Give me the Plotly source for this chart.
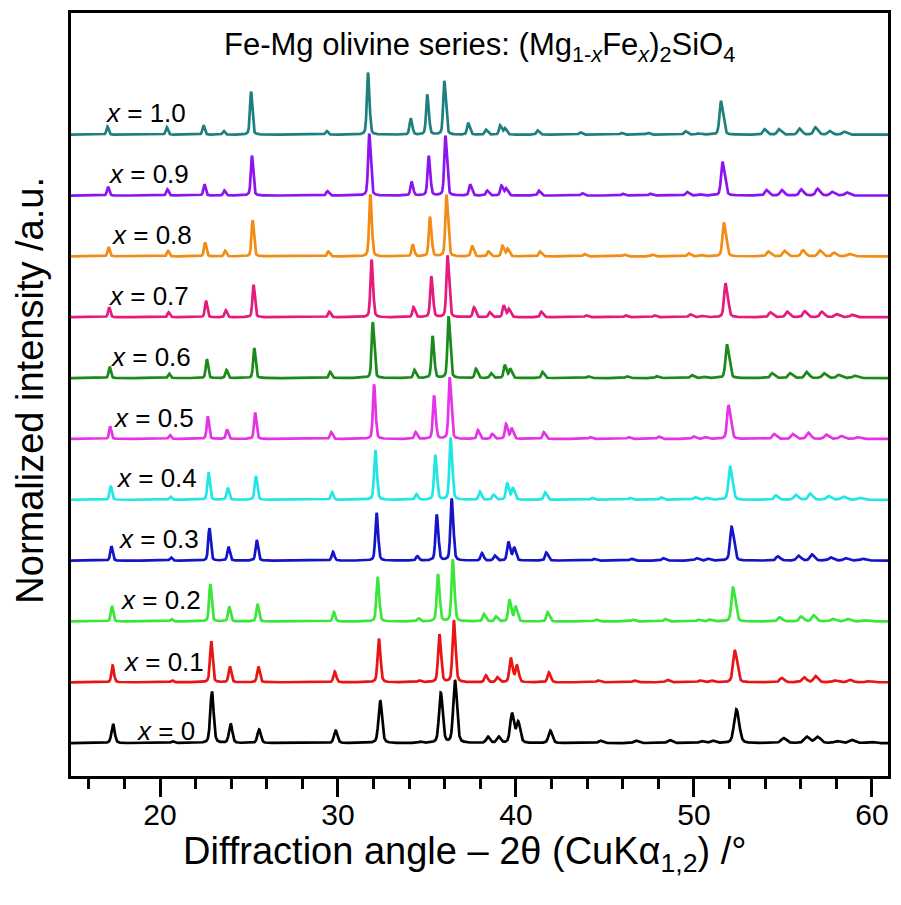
import numpy as np
import plotly.graph_objects as go

# ---------------- data ----------------
compositions = ["0", "0.1", "0.2", "0.3", "0.4", "0.5", "0.6", "0.7", "0.8", "0.9", "1.0"]
colors = ["#000000", "#E81515", "#3BE63B", "#1414C8", "#22E6E6", "#E633E6",
          "#1A8A1A", "#E6197F", "#F28C14", "#8C14F0", "#1E7F7F"]

# peak positions (deg 2theta) per composition, same peak order in each list
pos_x00 = [17.35, 20.70, 22.90, 23.95, 25.55, 29.85, 32.35, 34.60, 35.75, 36.55, 38.40, 39.00, 39.75, 40.10, 41.90, 44.70, 46.70, 48.60, 50.40, 51.00, 52.35, 55.00, 56.30, 56.90, 58.00, 58.85, 59.90]
pos_x01 = [17.33, 20.67, 22.86, 23.91, 25.51, 29.80, 32.28, 34.55, 35.68, 36.49, 38.29, 38.93, 39.69, 40.03, 41.83, 44.59, 46.62, 48.48, 50.31, 50.92, 52.27, 54.90, 56.15, 56.80, 57.88, 58.73, 59.75]
pos_x02 = [17.29, 20.63, 22.81, 23.87, 25.46, 29.75, 32.21, 34.49, 35.60, 36.43, 38.18, 38.86, 39.62, 39.96, 41.76, 44.48, 46.54, 48.36, 50.22, 50.84, 52.18, 54.79, 56.00, 56.70, 57.76, 58.60, 59.60]
pos_x03 = [17.26, 20.60, 22.76, 23.83, 25.42, 29.70, 32.15, 34.44, 35.53, 36.37, 38.07, 38.79, 39.56, 39.88, 41.69, 44.37, 46.46, 48.24, 50.13, 50.76, 52.10, 54.69, 55.84, 56.60, 57.64, 58.48, 59.45]
pos_x04 = [17.22, 20.57, 22.71, 23.79, 25.37, 29.65, 32.08, 34.39, 35.45, 36.31, 37.96, 38.72, 39.49, 39.81, 41.62, 44.26, 46.38, 48.12, 50.04, 50.68, 52.01, 54.58, 55.69, 56.50, 57.52, 58.35, 59.30]
pos_x05 = [17.19, 20.54, 22.67, 23.75, 25.33, 29.60, 32.01, 34.34, 35.38, 36.26, 37.85, 38.65, 39.43, 39.74, 41.55, 44.15, 46.30, 48.00, 49.95, 50.60, 51.93, 54.48, 55.53, 56.40, 57.40, 58.23, 59.15]
pos_x06 = [17.16, 20.50, 22.62, 23.72, 25.28, 29.54, 31.94, 34.28, 35.30, 36.20, 37.74, 38.58, 39.36, 39.66, 41.48, 44.04, 46.22, 47.88, 49.86, 50.52, 51.84, 54.37, 55.37, 56.30, 57.28, 58.10, 59.00]
pos_x07 = [17.13, 20.47, 22.57, 23.68, 25.24, 29.49, 31.87, 34.23, 35.23, 36.14, 37.63, 38.51, 39.30, 39.59, 41.41, 43.93, 46.14, 47.76, 49.77, 50.44, 51.76, 54.27, 55.22, 56.20, 57.16, 57.98, 58.85]
pos_x08 = [17.10, 20.44, 22.52, 23.64, 25.19, 29.44, 31.80, 34.18, 35.15, 36.08, 37.52, 38.44, 39.23, 39.52, 41.34, 43.82, 46.06, 47.64, 49.68, 50.36, 51.67, 54.16, 55.06, 56.10, 57.04, 57.85, 58.70]
pos_x09 = [17.07, 20.40, 22.48, 23.60, 25.15, 29.39, 31.74, 34.12, 35.08, 36.02, 37.41, 38.37, 39.17, 39.44, 41.27, 43.71, 45.98, 47.52, 49.59, 50.28, 51.59, 54.06, 54.91, 56.00, 56.92, 57.73, 58.55]
pos_x10 = [17.04, 20.37, 22.43, 23.56, 25.10, 29.34, 31.67, 34.07, 35.00, 35.96, 37.30, 38.30, 39.10, 39.37, 41.20, 43.60, 45.90, 47.40, 49.50, 50.20, 51.50, 53.95, 54.75, 55.90, 56.80, 57.60, 58.40]

# normalized peak heights per composition (same order as positions)
h_x00 = [0.31, 0.03, 0.83, 0.31, 0.22, 0.20, 0.68, 0.02, 0.80, 1.00, 0.10, 0.10, 0.47, 0.33, 0.20, 0.04, 0.04, 0.05, 0.03, 0.04, 0.54, 0.08, 0.10, 0.10, 0.03, 0.05, 0.02]
h_x01 = [0.27, 0.03, 0.66, 0.25, 0.25, 0.17, 0.70, 0.03, 0.77, 1.00, 0.11, 0.08, 0.39, 0.27, 0.16, 0.03, 0.03, 0.04, 0.03, 0.03, 0.52, 0.07, 0.08, 0.10, 0.03, 0.04, 0.02]
h_x02 = [0.25, 0.04, 0.60, 0.24, 0.28, 0.15, 0.72, 0.05, 0.76, 1.00, 0.12, 0.08, 0.35, 0.24, 0.15, 0.03, 0.03, 0.04, 0.03, 0.03, 0.55, 0.07, 0.08, 0.10, 0.04, 0.04, 0.02]
h_x03 = [0.23, 0.05, 0.52, 0.22, 0.33, 0.14, 0.77, 0.07, 0.74, 1.00, 0.12, 0.08, 0.30, 0.21, 0.13, 0.03, 0.03, 0.04, 0.04, 0.03, 0.55, 0.07, 0.08, 0.10, 0.05, 0.04, 0.03]
h_x04 = [0.22, 0.05, 0.44, 0.19, 0.38, 0.12, 0.80, 0.09, 0.72, 1.00, 0.13, 0.08, 0.27, 0.19, 0.12, 0.03, 0.03, 0.04, 0.04, 0.03, 0.55, 0.07, 0.08, 0.10, 0.06, 0.05, 0.03]
h_x05 = [0.20, 0.06, 0.36, 0.15, 0.42, 0.11, 0.88, 0.11, 0.70, 1.00, 0.14, 0.08, 0.24, 0.17, 0.11, 0.03, 0.03, 0.04, 0.04, 0.03, 0.55, 0.08, 0.08, 0.10, 0.07, 0.05, 0.03]
h_x06 = [0.18, 0.07, 0.30, 0.13, 0.48, 0.10, 0.90, 0.13, 0.68, 1.00, 0.15, 0.08, 0.21, 0.15, 0.10, 0.03, 0.03, 0.03, 0.05, 0.02, 0.55, 0.08, 0.08, 0.10, 0.08, 0.05, 0.04]
h_x07 = [0.16, 0.08, 0.26, 0.11, 0.52, 0.09, 0.93, 0.16, 0.66, 1.00, 0.16, 0.08, 0.19, 0.13, 0.09, 0.03, 0.03, 0.03, 0.05, 0.02, 0.55, 0.08, 0.09, 0.10, 0.09, 0.05, 0.04]
h_x08 = [0.15, 0.09, 0.22, 0.09, 0.58, 0.08, 1.00, 0.19, 0.64, 1.00, 0.17, 0.08, 0.17, 0.12, 0.08, 0.04, 0.03, 0.03, 0.05, 0.02, 0.55, 0.08, 0.09, 0.10, 0.10, 0.06, 0.04]
h_x09 = [0.14, 0.10, 0.18, 0.08, 0.64, 0.07, 1.00, 0.22, 0.64, 0.97, 0.18, 0.08, 0.16, 0.11, 0.08, 0.04, 0.03, 0.03, 0.06, 0.02, 0.55, 0.09, 0.09, 0.10, 0.11, 0.06, 0.05]
h_x10 = [0.13, 0.12, 0.15, 0.06, 0.69, 0.06, 1.00, 0.26, 0.65, 0.87, 0.19, 0.08, 0.15, 0.10, 0.07, 0.04, 0.03, 0.03, 0.06, 0.02, 0.55, 0.09, 0.09, 0.10, 0.12, 0.06, 0.05]

# instrumental peak width (FWHM, deg) per composition
fwhm = [0.20, 0.15, 0.14, 0.14, 0.14, 0.13, 0.13, 0.13, 0.13, 0.13, 0.13]
# label position per composition: x in deg, height above the baseline
label_x = [18.55, 17.8, 17.65, 17.5, 17.4, 17.25, 17.1, 16.95, 17.15, 16.95, 16.8]
label_dy = [0.2, 0.33, 0.35, 0.35, 0.35, 0.35, 0.35, 0.35, 0.35, 0.35, 0.35]

positions = [pos_x00, pos_x01, pos_x02, pos_x03, pos_x04, pos_x05, pos_x06, pos_x07, pos_x08, pos_x09, pos_x10]
heights = [h_x00, h_x01, h_x02, h_x03, h_x04, h_x05, h_x06, h_x07, h_x08, h_x09, h_x10]

x_min, x_max = 15.0, 60.9
offset_step = 1.0

# ---------------- profile rendering ----------------
tt = np.arange(x_min, x_max + 0.005, 0.01)


def pv(x, c, w):
    g = np.exp(-4 * np.log(2) * ((x - c) / w) ** 2)
    l = 1.0 / (1.0 + 4 * ((x - c) / w) ** 2)
    return 0.6 * g + 0.4 * l


def pattern(pos, hts, w0):
    y = np.zeros_like(tt)
    for p, h in zip(pos, hts):
        th = np.radians(p / 2)
        w = w0 / np.cos(th) * (1.0 + 0.5 * max(0.0, (p - 45) / 15))
        d = np.degrees(2 * np.tan(th) * 0.00251)
        norm = 1.0 + 0.5 * pv(p + d, p, w)
        y += h * (pv(tt, p, w) + 0.5 * pv(tt, p + d, w)) / norm
    return y


FONT = "Liberation Sans, Arial"

fig = go.Figure()
for i, comp in enumerate(compositions):
    y = pattern(positions[i], heights[i], fwhm[i]) + i * offset_step
    fig.add_trace(go.Scatter(x=tt, y=y, mode="lines",
                             line=dict(color=colors[i], width=2.7),
                             showlegend=False, hoverinfo="skip"))
    fig.add_annotation(x=label_x[i], y=i * offset_step + label_dy[i], xref="x", yref="y",
                       text="<i>x</i> = " + comp, showarrow=False,
                       xanchor="left", yanchor="middle",
                       font=dict(size=26, color="black", family=FONT))

# chart title
fig.add_annotation(xref="paper", yref="paper", x=0.5, y=0.955,
                   text="Fe-Mg olivine series: (Mg<sub>1-<i>x</i></sub>Fe<sub><i>x</i></sub>)<sub>2</sub>SiO<sub>4</sub>",
                   showarrow=False, xanchor="center", yanchor="middle",
                   font=dict(size=31, color="black", family=FONT))
# x-axis title
fig.add_annotation(xref="paper", yref="paper", x=0.482, y=0, yshift=-78,
                   text="Diffraction angle \u2013 2\u03b8 (CuK\u03b1<sub>1,2</sub>) /\u00b0",
                   showarrow=False, xanchor="center", yanchor="middle",
                   font=dict(size=38, color="black", family=FONT))
# y-axis title
fig.add_annotation(xref="paper", yref="paper", x=0, xshift=-41, y=0.505,
                   text="Normalized intensity /a.u.", textangle=-90,
                   showarrow=False, xanchor="center", yanchor="middle",
                   font=dict(size=38, color="black", family=FONT))

fig.update_layout(
    width=901, height=905,
    margin=dict(l=71, r=10, t=11, b=129),
    paper_bgcolor="white", plot_bgcolor="white",
    font=dict(family=FONT, color="black"),
    xaxis=dict(range=[x_min, x_max], showgrid=False, zeroline=False,
               showline=True, linewidth=3, linecolor="black", mirror=True,
               ticks="outside", ticklen=18, tickwidth=2.5, tickcolor="black",
               tick0=0, dtick=10, tickfont=dict(size=30), ticklabelstandoff=-8,
               minor=dict(ticks="outside", ticklen=10, tickwidth=2.5, tickcolor="black",
                          tick0=0, dtick=2, showgrid=False)),
    yaxis=dict(range=[-0.54, 12.0], showgrid=False, zeroline=False,
               showline=True, linewidth=3, linecolor="black", mirror=True,
               ticks="", showticklabels=False),
)

fig.write_html("out.html")
